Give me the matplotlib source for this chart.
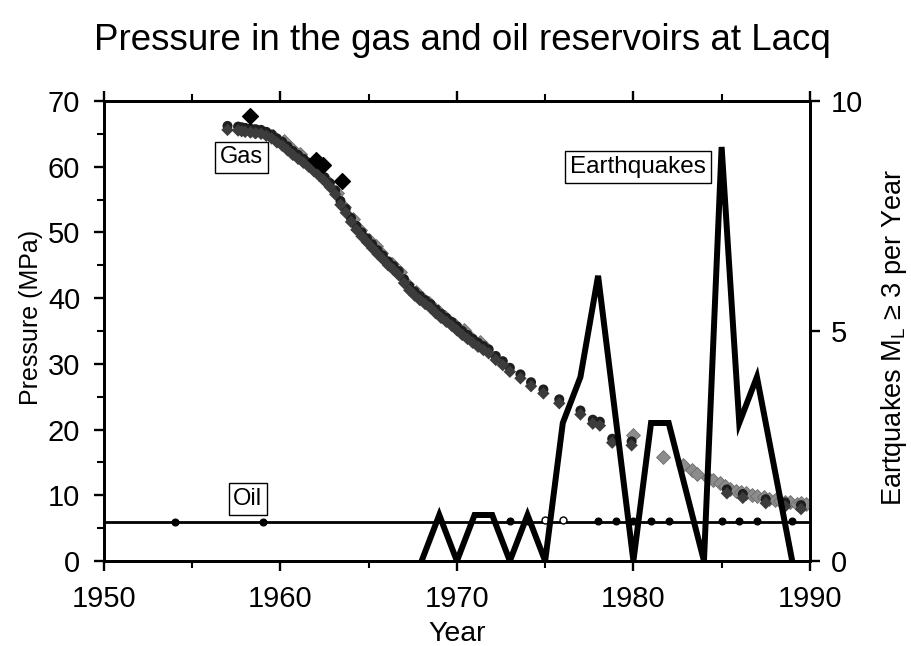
import matplotlib
matplotlib.use("Agg")
import matplotlib.pyplot as plt
from matplotlib.ticker import MultipleLocator

plt.rcParams['font.family'] = ['Liberation Sans', 'DejaVu Sans']

# ---------------- data ----------------
gas_black_year = [1957.0, 1957.6, 1957.8, 1958.0, 1958.3, 1958.6, 1958.9, 1959.2, 1959.5, 1959.8,
                  1960.1, 1960.4, 1960.7, 1961.0, 1961.3, 1961.6, 1961.9, 1962.2, 1962.5, 1962.8,
                  1963.1, 1963.4, 1963.7, 1964.0, 1964.3, 1964.6, 1964.9, 1965.2, 1965.5, 1965.8,
                  1966.1, 1966.4, 1966.7, 1967.0, 1967.3, 1967.6, 1967.9, 1968.2, 1968.5, 1968.8,
                  1969.1, 1969.4, 1969.7, 1970.0, 1970.3, 1970.6, 1970.9, 1971.2, 1971.5, 1971.8,
                  1972.2, 1972.6, 1973.0, 1973.6, 1974.2, 1974.9, 1975.8, 1977.0, 1977.7, 1978.1,
                  1978.8, 1979.9, 1985.3, 1986.2, 1987.5, 1988.6, 1989.5]
gas_black_p = [66.2, 66.1, 66.0, 65.9, 65.8, 65.7, 65.6, 65.3, 64.9, 64.3,
               63.8, 63.1, 62.4, 61.8, 61.2, 60.6, 59.9, 59.2, 58.4, 57.5,
               56.4, 54.8, 53.6, 52.2, 51.0, 50.0, 49.1, 48.2, 47.3, 46.5,
               45.6, 44.9, 44.1, 42.9, 41.8, 41.0, 40.3, 39.7, 39.1, 38.3,
               37.6, 37.0, 36.4, 35.7, 35.0, 34.4, 33.8, 33.2, 32.7, 32.2,
               31.2, 30.4, 29.4, 28.4, 27.2, 26.1, 24.6, 22.9, 21.5, 21.2,
               18.6, 18.2, 10.9, 10.2, 9.4, 8.9, 8.5]

gas_gray_year = [1958.5, 1959.6, 1960.2, 1960.6, 1961.1, 1961.4, 1962.0, 1962.6, 1963.2, 1963.6,
                 1964.1, 1964.5, 1965.0, 1965.4, 1965.7, 1966.3, 1966.8, 1967.2, 1967.7, 1968.0,
                 1968.4, 1968.9, 1969.3, 1969.9, 1970.4, 1970.8, 1971.3, 1971.6,
                 1980.0, 1981.7, 1982.8, 1983.3,
                 1983.6, 1984.2, 1984.5, 1984.9, 1985.2, 1985.5, 1985.8, 1986.1, 1986.4, 1986.7,
                 1987.0, 1987.4, 1987.7, 1988.0, 1988.3, 1988.6, 1988.9, 1989.25, 1989.5, 1989.8]
gas_gray_p = [65.5, 64.6, 63.9, 62.9, 62.0, 60.9, 59.7, 58.0, 56.0, 53.9,
              52.0, 50.4, 48.9, 47.9, 46.8, 45.2, 44.0, 42.2, 41.0, 40.0,
              39.3, 38.0, 37.2, 35.9, 35.2, 34.0, 33.3, 32.6,
              19.2, 15.8, 14.6, 13.8,
              13.3, 12.6, 12.3, 11.9, 11.4, 11.0, 10.7, 10.5, 10.3, 10.1,
              9.9, 9.7, 9.5, 9.3, 9.2, 9.0, 8.9, 8.7, 8.8, 8.7]

gas_outlier_year = [1958.3, 1962.0, 1962.4, 1963.5]
gas_outlier_p = [67.7, 61.0, 60.3, 57.8]

oil_level = 6.0
oil_year = [1954, 1959, 1973, 1974, 1975, 1976, 1978, 1979, 1980, 1981, 1982, 1985, 1986, 1987, 1989]
oil_p = [6.0, 6.0, 6.1, 6.1, 6.2, 6.2, 6.1, 6.1, 6.1, 6.1, 6.1, 6.1, 6.1, 6.1, 6.1]
oil_hollow = [False, False, False, False, True, True, False, False, False, False, False, False, False, False, False]

quake_year = [1968, 1969, 1970, 1971, 1972, 1973, 1974, 1975, 1976, 1977, 1978, 1980,
              1981, 1982, 1984, 1985, 1986, 1987, 1989]
quake_count = [0, 1, 0, 1, 1, 0, 1, 0, 3, 4, 6.2, 0,
               3, 3, 0, 9, 3, 4, 0]

x_ticks = [1950, 1960, 1970, 1980, 1990]
y_ticks = [0, 10, 20, 30, 40, 50, 60, 70]
y2_ticks = [0, 5, 10]

# ---------------- figure ----------------
fig = plt.figure(figsize=(9.12, 6.46), dpi=100)
ax = fig.add_axes([0.114, 0.1316, 0.774, 0.7121])
ax2 = ax.twinx()

ax.set_xlim(1950, 1990)
ax.set_ylim(0, 70)
ax2.set_ylim(0, 10)

# oil
ax.axhline(oil_level, color='black', lw=2.0, zorder=2)
for x, y, h in zip(oil_year, oil_p, oil_hollow):
    ax.plot([x], [y], marker='o', ms=5 if h else 4.8,
            mfc='white' if h else 'black', mec='black', mew=1.0, zorder=3)

# gas
ax.scatter(gas_gray_year, gas_gray_p, marker='D', s=50, color='#8c8c8c',
           edgecolors='#6c6c6c', linewidths=0.6, zorder=3)
ax.scatter(gas_black_year, gas_black_p, marker='o', s=52, color='#1e1e1e',
           edgecolors='none', zorder=3)
ax.scatter(gas_black_year, [p - 0.6 for p in gas_black_p], marker='D', s=40, color='#3c3c3c',
           edgecolors='none', zorder=3)
ax.scatter(gas_outlier_year, gas_outlier_p, marker='D', s=64, color='black', zorder=4)

# earthquakes on right axis
ax2.plot(quake_year, quake_count, color='black', lw=4.3, solid_joinstyle='miter', zorder=5)

# labels in boxes
box = dict(boxstyle='square,pad=0.2', fc='white', ec='black', lw=1.0)
ax.text(1957.8, 61.4, 'Gas', fontsize=17, ha='center', va='center', bbox=box, zorder=6)
ax.text(1958.15, 9.4, 'Oil', fontsize=17, ha='center', va='center', bbox=box, zorder=6)
ax.text(1980.25, 59.9, 'Earthquakes', fontsize=17.5, ha='center', va='center', bbox=box, zorder=6)

# axes styling
ax.set_xticks(x_ticks)
ax.set_yticks(y_ticks)
ax.xaxis.set_minor_locator(MultipleLocator(5))
ax.yaxis.set_minor_locator(MultipleLocator(5))
ax2.set_yticks(y2_ticks)

for a in (ax, ax2):
    for s in a.spines.values():
        s.set_linewidth(2.0)
ax.tick_params(axis='both', which='major', direction='out', length=7, width=1.7,
               labelsize=21, top=True)
ax.tick_params(axis='both', which='minor', direction='out', length=5, width=1.5, top=True)
ax.tick_params(axis='x', which='major', pad=10)
ax.tick_params(axis='y', which='major', pad=10)
ax2.tick_params(axis='y', which='major', direction='out', length=7, width=1.7, labelsize=21, pad=8)

ax.set_xlabel('Year', fontsize=20.5)
ax.set_ylabel('Pressure (MPa)', fontsize=18)
ax2.set_ylabel(r'Eartquakes M$_\mathregular{L}$ ≥ 3 per Year', fontsize=19.5)
ax.xaxis.set_label_coords(0.5, -0.13)
ax.yaxis.set_label_coords(-0.087, 0.53)
ax2.yaxis.set_label_coords(1.098, 0.485)

fig.text(0.507, 1 - 50 / 646, 'Pressure in the gas and oil reservoirs at Lacq',
         fontsize=26.5, ha='center', va='baseline')

fig.savefig('out.png', dpi=100)
